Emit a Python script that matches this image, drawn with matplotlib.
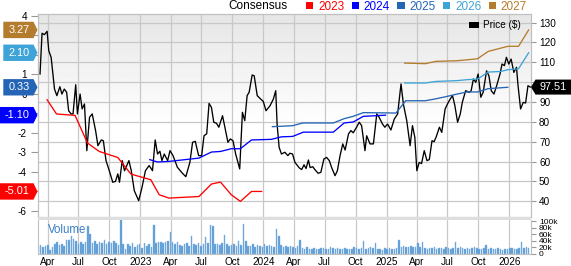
import matplotlib
matplotlib.use('Agg')
import matplotlib.pyplot as plt
import numpy as np
import pandas as pd
from matplotlib.patches import Polygon, Patch, Rectangle

plt.rcParams['font.family'] = ['Liberation Sans', 'DejaVu Sans']

# ---------------- data ----------------
price_dates = ['2022-03-09','2022-03-15','2022-03-22','2022-03-30','2022-04-04','2022-04-11','2022-04-21','2022-04-28','2022-05-07','2022-05-13','2022-05-20','2022-05-27','2022-06-02','2022-06-09','2022-06-15','2022-06-23','2022-06-28','2022-07-06','2022-07-12','2022-07-19','2022-07-26','2022-08-03','2022-08-11','2022-08-21','2022-08-28','2022-09-07','2022-09-13','2022-09-21','2022-09-29','2022-10-11','2022-10-19','2022-10-26','2022-10-31','2022-11-08','2022-11-15','2022-11-28','2022-12-05','2022-12-14','2022-12-27',
 '2023-01-06','2023-01-16','2023-01-27','2023-02-06','2023-02-14','2023-02-21','2023-02-28','2023-03-06','2023-03-13','2023-03-23','2023-03-30','2023-04-08','2023-04-21','2023-05-06','2023-05-16','2023-05-28','2023-06-05','2023-06-13','2023-06-23','2023-07-02','2023-07-09','2023-07-17','2023-07-24','2023-07-31','2023-08-07','2023-08-15','2023-08-22','2023-09-02','2023-09-09','2023-09-18','2023-09-25','2023-10-03','2023-10-11','2023-10-23','2023-10-31','2023-11-07','2023-11-14','2023-11-20','2023-11-29','2023-12-05','2023-12-14','2023-12-24',
 '2024-01-01','2024-01-09','2024-01-21','2024-01-31','2024-02-07','2024-02-11','2024-02-17','2024-02-24','2024-03-05','2024-03-14','2024-03-20','2024-03-28','2024-04-04','2024-04-17','2024-04-24','2024-05-01','2024-05-07','2024-05-14','2024-05-19','2024-05-27','2024-06-02','2024-06-12','2024-06-20','2024-06-29','2024-07-07','2024-07-15','2024-07-22','2024-08-01','2024-08-08','2024-08-16','2024-08-24','2024-08-31','2024-09-10','2024-09-17','2024-09-24','2024-10-04','2024-10-12','2024-10-19','2024-10-29','2024-11-03','2024-11-13','2024-11-23','2024-12-03','2024-12-10','2024-12-20','2024-12-27',
 '2025-01-04','2025-01-14','2025-01-24','2025-02-03','2025-02-13','2025-02-20','2025-03-02','2025-03-12','2025-03-19','2025-03-26','2025-04-01','2025-04-08','2025-04-15','2025-04-23','2025-05-01','2025-05-08','2025-05-16','2025-05-22','2025-05-28','2025-06-07','2025-06-14','2025-06-24','2025-07-01','2025-07-09','2025-07-16','2025-07-23','2025-07-31','2025-08-08','2025-08-14','2025-08-24','2025-09-03','2025-09-09','2025-09-16','2025-09-23','2025-09-30','2025-10-08','2025-10-15','2025-10-25','2025-11-01','2025-11-08','2025-11-16','2025-11-24','2025-12-04','2025-12-10','2025-12-17','2025-12-23','2025-12-30',
 '2026-01-06','2026-01-14','2026-01-22','2026-01-26','2026-02-03','2026-02-11','2026-02-18','2026-02-25','2026-03-04']
price_vals = [104.1,124.6,123.9,125.6,115.8,112.5,96.5,93.2,97.7,94,96.5,94.9,85.6,84,84,98.7,84,94,86.5,89,65.5,82.3,84,75.6,68,70.9,70.5,60.5,56.3,49.6,50,53.8,49.6,60.5,55.4,60.5,55.4,45.3,40.3,
 47.1,55.4,58,55.4,70.9,63.8,65.2,60.5,63.8,60.5,65.5,63,57.1,54.1,52.4,59.6,69.7,70.2,63,63,73,74,89.3,87.3,79.8,79.3,77.3,83.1,77.3,69.7,71.4,70.5,63.8,56.3,84.8,80.6,93.2,94.9,103.6,103.2,93.2,91.5,
 90.3,85.6,88.1,91.5,95.7,78.9,67.2,63.8,64.7,63,64.2,63.8,59.6,56.8,56,58.4,56.5,60.8,57,57.4,56,54.1,54.6,61.3,62.1,60.5,57,52.9,55.4,63,68.9,65.8,73.9,75.6,74.5,77.3,79.8,78.1,65.5,73,68.9,68.9,84,82.3,78.9,77.3,
 78.9,75.9,81.4,84,99.1,89,80.6,68,78.1,72.2,55.4,59.6,59,65.5,60.5,61,70.5,70,72.2,77.3,74.7,86.5,89,91.5,93.2,88.1,79.8,84,89.8,95.7,94.9,95.5,101.6,99.9,104.1,92.4,94.9,105.7,103.2,95.7,94,98.2,104.1,109.1,108.3,112.5,109.1,
 111.6,104.9,107.5,99.1,86.5,89.8,89.5,98.2,97.51]
last_price = 97.51

eps23_dates = ['2022-03-30','2022-04-27','2022-06-21','2022-07-28','2022-09-01','2022-10-26','2022-12-04','2023-02-01','2023-02-26','2023-03-27','2023-06-24','2023-07-31','2023-08-27','2023-09-28','2023-10-25','2023-11-27','2023-12-27']
eps23 = [-0.31,-1.04,-1.11,-2.53,-2.96,-3.27,-4.12,-4.41,-5.18,-5.35,-5.27,-4.63,-4.53,-5.18,-5.52,-5.01,-5.01]
eps24_dates = ['2023-01-29','2023-02-21','2023-03-27','2023-06-24','2023-07-31','2023-08-27','2023-09-28','2023-10-25','2023-11-27','2024-01-25','2024-02-24','2024-03-28','2024-04-29','2024-07-27','2024-08-28','2024-09-24','2024-10-24','2024-12-29']
eps24 = [-3.38,-3.50,-3.47,-3.30,-2.99,-2.96,-2.82,-2.82,-2.37,-2.34,-2.21,-2.19,-1.97,-1.97,-1.50,-1.45,-1.16,-1.10]
eps25_dates = ['2024-01-28','2024-03-28','2024-04-27','2024-07-27','2024-08-28','2024-09-24','2024-10-24','2025-01-29','2025-02-27','2025-04-26','2025-05-28','2025-06-29','2025-07-29','2025-08-28','2025-09-28','2025-10-30','2025-12-27']
eps25 = [-1.69,-1.64,-1.50,-1.50,-1.28,-1.16,-0.97,-0.99,-0.36,-0.36,-0.26,-0.14,-0.02,0.09,0.09,0.26,0.33]
eps26_dates = ['2025-02-24','2025-04-26','2025-05-28','2025-07-29','2025-08-28','2025-09-28','2025-10-30','2025-12-06','2025-12-27','2026-01-28','2026-02-27']
eps26 = [0.55,0.55,0.63,0.67,0.72,0.75,1.11,1.14,1.23,1.28,2.10]
eps27_dates = ['2025-02-24','2025-04-26','2025-05-28','2025-07-29','2025-09-28','2025-10-30','2025-12-27','2026-01-28','2026-02-27']
eps27 = [1.57,1.54,1.66,1.69,1.79,2.17,2.43,2.43,3.27]

eps_years = ['2023', '2024', '2025', '2026', '2027']
eps_last = ['-5.01', '-1.10', '0.33', '2.10', '3.27']

volume_start = '2022-03-04'
volume_k = [26,29,22,24,28,13,22,32,38,27,
 30,25,44,42,54,46,40,32,36,30,
 38,85,62,34,40,31,36,33,42,30,
 38,35,40,33,28,103,30,16,32,26,
 34,22,28,30,18,34,24,30,20,90,
 34,36,38,34,36,40,66,36,30,38,
 28,24,30,34,26,56,30,28,33,26,
 30,52,34,90,85,32,30,28,34,59,
 30,26,28,30,24,40,27,93,39,26,
 24,30,22,28,25,20,30,24,28,26,
 22,77,54,28,22,25,20,24,22,18,
 24,42,18,16,20,15,14,18,16,15,
 17,18,14,16,20,18,15,17,14,16,
 18,15,16,14,20,17,15,18,39,16,
 18,20,17,34,16,14,12,18,15,17,
 16,14,18,42,20,24,22,20,25,22,
 21,34,20,36,18,16,19,17,20,15,
 18,17,16,20,18,15,17,36,18,20,
 17,16,19,15,18,20,17,16,14,18,
 29,15,17,14,16,18,15,12,16,14,
 18,17,15,16,19,36,18,20,19]

price_ticks = [40, 50, 60, 70, 80, 90, 100, 110, 120, 130]
price_tick_labels = ['40', '50', '60', '70', '80', '90', '', '110', '120', '130']  # 100 sits under the price box
eps_ticks = [-6, -5, -4, -3, -2, -1, 0, 1, 2, 3, 4]
eps_tick_labels = ['-6', '', '-4', '-3', '-2', '', '0', '1', '', '', '4']  # others sit under value boxes
vol_ticks = [0, 20, 40, 60, 80, 100]
vol_tick_labels = ['0', '20k', '40k', '60k', '80k', '100k']
x_ticks = ['2022-04-01','2022-07-01','2022-10-01','2023-01-01','2023-04-01','2023-07-01','2023-10-01','2024-01-01','2024-04-01','2024-07-01','2024-10-01','2025-01-01','2025-04-01','2025-07-01','2025-10-01','2026-01-01']
x_tick_labels = ['Apr','Jul','Oct','2023','Apr','Jul','Oct','2024','Apr','Jul','Oct','2025','Apr','Jul','Oct','2026']

# ---------------- style ----------------
C23, C24, C25, C26, C27 = '#ff0000', '#0000ff', '#2565b5', '#3ea3d6', '#b47d2e'
LINE_COLORS = [C23, C24, C25, C26, C27]
GRID = '#c8c8c8'
W, H = 571, 266
fig = plt.figure(figsize=(W / 100, H / 100), dpi=100)
fig.patch.set_facecolor('white')

def box(x0, y0, x1, y1):
    return [x0 / W, 1 - y1 / H, (x1 - x0) / W, (y1 - y0) / H]

axp = fig.add_axes(box(38, 14, 531, 217))
axe = axp.twinx()
axv = fig.add_axes(box(38, 220, 531, 254), sharex=axp)

xmin, xmax = pd.Timestamp('2022-03-03'), pd.Timestamp('2026-03-06')

# gradient background (gray at top fading to white)
grad = np.concatenate([np.linspace(0.90, 1.0, 110), np.ones(90)])[:, None]
axp.imshow(grad, extent=[0, 1, 0, 1], origin='upper', transform=axp.transAxes, cmap='gray',
           vmin=0, vmax=1, aspect='auto', zorder=0, interpolation='bilinear')
axp.set_xlim(xmin, xmax)
axp.set_ylim(32.1, 134.3)
axe.set_ylim(-6.32, 4.087)

xt = pd.to_datetime(x_ticks)
for a in (axp, axv):
    a.set_xticks(xt)
    a.grid(axis='x', color=GRID, lw=0.9, zorder=1)
axp.set_yticks(price_ticks)
axp.set_yticklabels(price_tick_labels)
axp.grid(axis='y', color=GRID, lw=0.9, zorder=1)
axp.set_axisbelow(True)

# price line
axp.plot(pd.to_datetime(price_dates), price_vals, color='black', lw=0.95, zorder=3)

# EPS lines
eps_series = [(eps23_dates, eps23), (eps24_dates, eps24), (eps25_dates, eps25),
              (eps26_dates, eps26), (eps27_dates, eps27)]
for (d, v), c in zip(eps_series, LINE_COLORS):
    axe.plot(pd.to_datetime(d), v, color=c, lw=0.95, zorder=4)

# axes styling
for a in (axp, axe, axv):
    for s in a.spines.values():
        s.set_color('#c0c0c0')
        s.set_linewidth(0.8)
axp.tick_params(axis='x', length=0, labelbottom=False)
axp.yaxis.tick_right()
axp.tick_params(axis='y', which='both', right=True, left=False, labelright=True, labelleft=False,
                length=3.6, width=0.8, color='#999999', pad=2.2, labelsize=7.2)
axe.set_yticks(eps_ticks)
axe.yaxis.set_ticks_position('left')
axe.yaxis.set_label_position('left')
axe.tick_params(axis='y', left=True, right=False, labelleft=True, labelright=False,
                length=5, width=0.8, color='#999999', pad=3, labelsize=7.2)
axe.set_yticklabels(eps_tick_labels)
axe.tick_params(axis='x', length=0, labelbottom=False)
axe.set_xlim(xmin, xmax)

# volume
vdates = pd.date_range(volume_start, periods=len(volume_k), freq='7D')
axv.bar(vdates, volume_k, width=4.6, color='#5b9bd5', edgecolor='#86b6e2', linewidth=0.3, zorder=2)
axv.set_ylim(0, 104)
axv.set_yticks(vol_ticks)
axv.set_yticklabels(vol_tick_labels)
axv.yaxis.tick_right()
axv.tick_params(axis='y', right=True, left=False, length=3.6, width=0.8, color='#999999',
                pad=2.2, labelsize=6.0)
axv.set_xticks(xt)
axv.set_xticklabels(x_tick_labels)
axv.tick_params(axis='x', length=0, pad=2.0, labelsize=7.2)
axv.set_xlim(xmin, xmax)
axv.set_facecolor('white')
axv.spines['top'].set_visible(False)
axv.text(0.02, 0.72, 'Volume', transform=axv.transAxes, color='#3a80c8', fontsize=8.3,
         va='center', ha='left', zorder=5)

# separator band
fig.patches.append(Rectangle((38 / W, 1 - 220 / H), 493 / W, 3 / H, transform=fig.transFigure,
                             facecolor='#dedede', edgecolor='none', zorder=5))

# top legend
handles = [Patch(facecolor=c, edgecolor='none') for c in LINE_COLORS]
leg = fig.legend(handles, eps_years, loc='upper right', bbox_to_anchor=(527 / W, 1 - 0.5 / H),
                 ncol=5, frameon=False, fontsize=8.5, handlelength=0.6, handleheight=0.6,
                 handletextpad=0.4, columnspacing=0.65, borderpad=0, borderaxespad=0)
for t, c in zip(leg.get_texts(), LINE_COLORS):
    t.set_color(c)
fig.text(228 / W, 1 - 6 / H, 'Consensus', fontsize=8.5, color='black', ha='left', va='center')

# price legend inside
axp.legend([Patch(facecolor='black')], ['Price ($)'], loc='upper right',
           bbox_to_anchor=(1 - 10 / 493, 1 - 6.5 / 203), frameon=False, fontsize=7.2,
           handlelength=0.95, handleheight=0.5, handletextpad=0.45, borderpad=0, borderaxespad=0)

# value boxes
fig.canvas.draw()
def eps_box(val, text, color, x0):
    yd = axe.transData.transform((0, val))[1]
    h = 8.2
    x1, xt_ = 33.5, 37.5
    verts = [(x0, yd - h), (x1, yd - h), (xt_, yd), (x1, yd + h), (x0, yd + h)]
    verts = [(vx / W, vy / H) for vx, vy in verts]
    fig.patches.append(Polygon(verts, closed=True, transform=fig.transFigure,
                               facecolor=color, edgecolor='none', zorder=10))
    fig.text((x0 + x1) / 2 / W + 0.5 / W, yd / H, text, color='white', fontsize=7.8,
             ha='center', va='center', zorder=11)

for txt, c in zip(eps_last, LINE_COLORS):
    v = float(txt)
    eps_box(v, txt, c, 0.0 if v < 0 else 3.3)

yd = axp.transData.transform((0, last_price))[1]
h = 7.5
verts = [(531, yd), (535.5, yd - h), (571, yd - h), (571, yd + h), (535.5, yd + h)]
fig.patches.append(Polygon([(vx / W, vy / H) for vx, vy in verts], closed=True,
                           transform=fig.transFigure, facecolor='black', edgecolor='none', zorder=10))
fig.text(553 / W, yd / H, f'{last_price:.2f}', color='white', fontsize=7.8, ha='center',
         va='center', zorder=11)

fig.savefig('out.png', dpi=100)
